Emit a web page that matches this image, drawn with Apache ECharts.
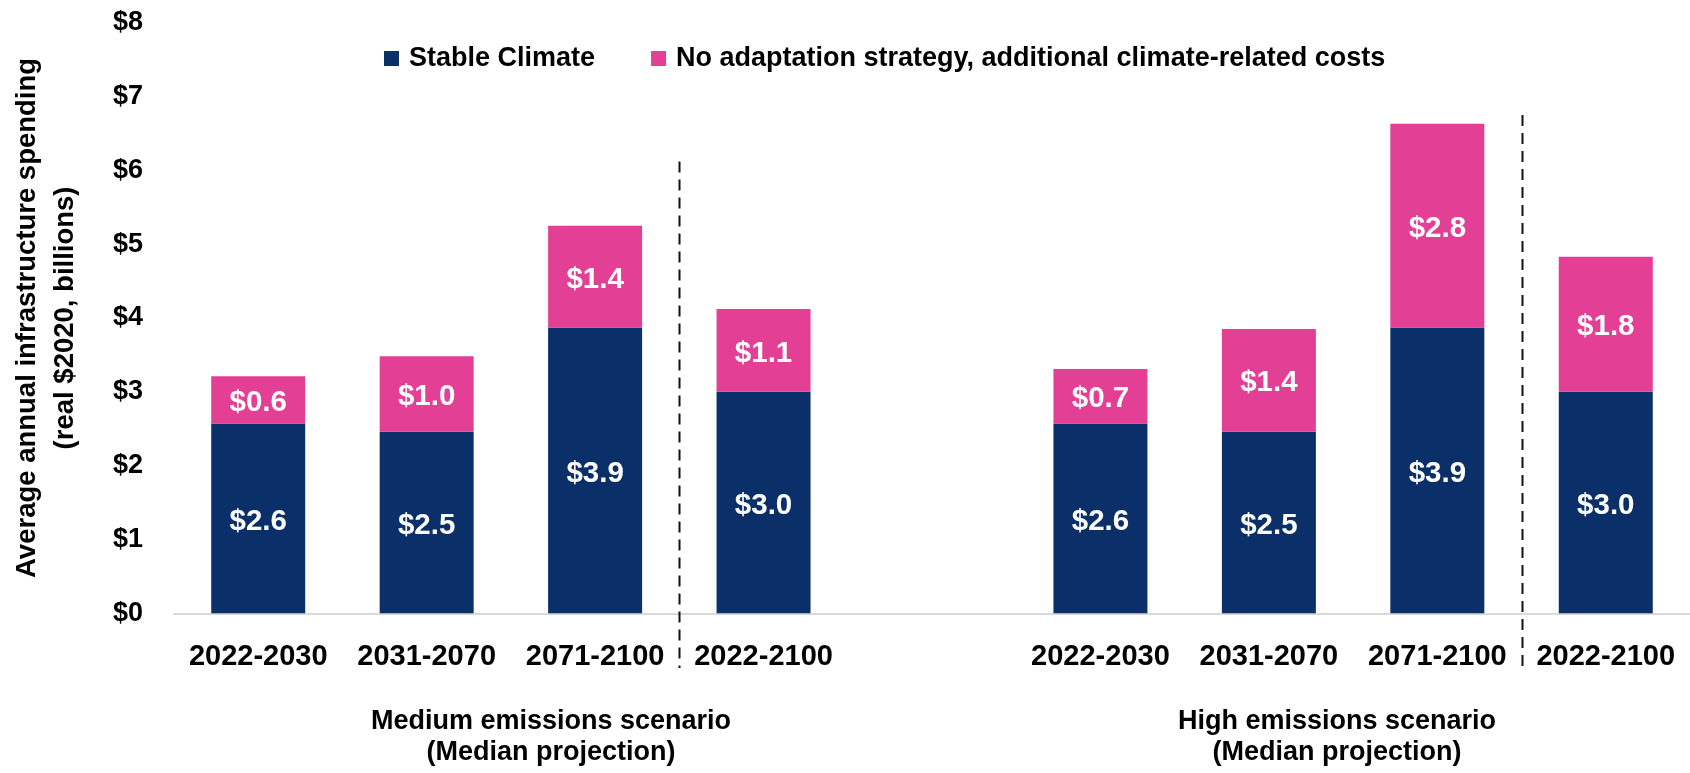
<!DOCTYPE html>
<html>
<head>
<meta charset="utf-8">
<title>Infrastructure spending</title>
<script src="https://cdn.jsdelivr.net/npm/echarts@6/dist/echarts.min.js"></script>
<style>
  html, body { margin: 0; padding: 0; background: #fff; }
  #chart { width: 1690px; height: 773px; }
</style>
</head>
<body>
<div id="chart"></div>
<script>
// periods per scenario, one empty slot between the two groups
const periods = ['2022-2030', '2031-2070', '2071-2100', '2022-2100'];
const categories = periods.concat([''], periods);

const stableMedium = [2.57, 2.46, 3.87, 3.0];
const stableHigh = [2.57, 2.46, 3.87, 3.0];
const extraMedium = [0.64, 1.02, 1.38, 1.12];
const extraHigh = [0.74, 1.39, 2.76, 1.83];

const seriesNames = ['Stable Climate', 'No adaptation strategy, additional climate-related costs'];
const groupTitles = ['Medium emissions scenario\n(Median projection)', 'High emissions scenario\n(Median projection)'];
const yTicks = [0, 1, 2, 3, 4, 5, 6, 7, 8];

// dashed separators: drawn between these category indexes, up to these values
const dividerAfter = [2, 7];
const dividerTop = [6.12, 6.75];
const dividerBottom = -0.74;

const FONT = '"Liberation Sans", Arial, sans-serif';
const NAVY = '#0B3069';
const PINK = '#E33F95';

const chart = echarts.init(document.getElementById('chart'), null, { renderer: 'canvas' });

function money(p) {
    return '$' + p.value.toFixed(1);
}

const barLabel = {
    show: true,
    position: 'inside',
    offset: [0, 3],
    color: '#fff',
    fontFamily: FONT,
    fontSize: 29.5,
    fontWeight: 'bold',
    formatter: money
};

const option = {
    backgroundColor: '#fff',
    animation: false,
    textStyle: { fontFamily: FONT },
    grid: { left: 174, right: -13, top: 22.6, bottom: 159.7 },
    legend: {
        left: 384,
        top: 45,
        padding: 0,
        itemWidth: 15,
        itemHeight: 15,
        itemGap: 56,
        icon: 'rect',
        textStyle: { fontFamily: FONT, fontSize: 27, fontWeight: 'bold', color: '#000', padding: [0, 0, 0, 5] },
        data: seriesNames
    },
    xAxis: {
        type: 'category',
        data: categories,
        axisLine: { show: true, lineStyle: { color: '#D9D9D9', width: 2 } },
        axisTick: { show: false },
        axisLabel: {
            interval: 0,
            margin: 29,
            fontFamily: FONT,
            fontSize: 29,
            fontWeight: 'bold',
            color: '#000'
        }
    },
    yAxis: {
        type: 'value',
        min: yTicks[0],
        max: yTicks[yTicks.length - 1],
        interval: 1,
        name: 'Average annual infrastructure spending\n(real $2020, billions)',
        nameLocation: 'middle',
        nameRotate: 90,
        nameGap: 90,
        nameTextStyle: { fontFamily: FONT, fontSize: 27.5, fontWeight: 'bold', color: '#000', lineHeight: 38 },
        axisLine: { show: false },
        axisTick: { show: false },
        splitLine: { show: false },
        axisLabel: {
            margin: 31,
            fontFamily: FONT,
            fontSize: 27,
            fontWeight: 'bold',
            color: '#000',
            formatter: v => '$' + v
        }
    },
    series: [
        {
            name: seriesNames[0],
            type: 'bar',
            stack: 'total',
            barWidth: 94,
            itemStyle: { color: NAVY },
            label: barLabel,
            data: stableMedium.concat([null], stableHigh)
        },
        {
            name: seriesNames[1],
            type: 'bar',
            stack: 'total',
            barWidth: 94,
            itemStyle: { color: PINK },
            label: barLabel,
            data: extraMedium.concat([null], extraHigh)
        }
    ]
};

chart.setOption(option);

// separators and scenario titles
const px = (i) => chart.convertToPixel({ xAxisIndex: 0 }, i);
const py = (v) => chart.convertToPixel({ yAxisIndex: 0 }, v);
const elements = [];
dividerAfter.forEach((idx, k) => {
    const x = Math.round((px(idx) + px(idx + 1)) / 2) + 0.5;
    elements.push({
        type: 'line',
        shape: { x1: x, y1: py(dividerTop[k]), x2: x, y2: py(dividerBottom) },
        style: { stroke: '#111', lineWidth: 2, lineDash: [11, 7] },
        z: 10
    });
});
const titleX = [551, 1337];
groupTitles.forEach((t, k) => {
    elements.push({
        type: 'text',
        x: titleX[k],
        y: 706,
        style: {
            text: t,
            align: 'center',
            verticalAlign: 'top',
            fontFamily: FONT,
            fontSize: 27,
            fontWeight: 'bold',
            lineHeight: 31,
            fill: '#000'
        }
    });
});
chart.setOption({ graphic: elements });
</script>
</body>
</html>
